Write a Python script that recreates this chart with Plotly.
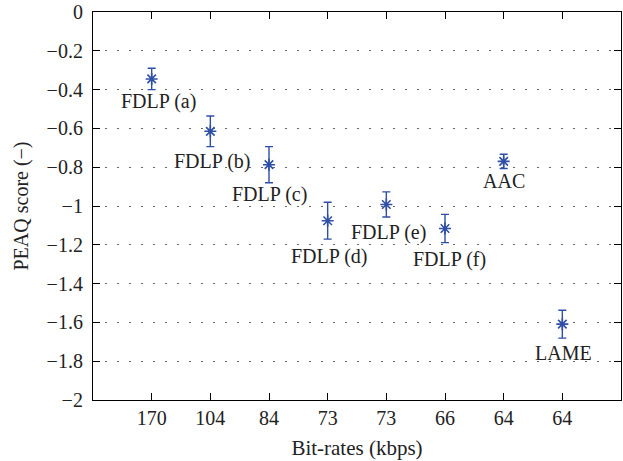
import plotly.graph_objects as go

# Codec configurations and their bit-rates
labels = ["FDLP (a)", "FDLP (b)", "FDLP (c)", "FDLP (d)", "FDLP (e)", "FDLP (f)", "AAC", "LAME"]
bitrates = ["170", "104", "84", "73", "73", "66", "64", "64"]

# Mean PEAQ scores and 95% confidence half-widths
peaq_mean = [-0.345, -0.615, -0.787, -1.076, -0.992, -1.116, -0.770, -1.609]
peaq_ci = [0.055, 0.079, 0.093, 0.095, 0.065, 0.073, 0.037, 0.072]

# Label offsets (pixels) relative to each point
label_dx = [7, 2, 0, 1, 2, 4, 0, 1]
label_dy = [-23, -30, -30, -36, -28, -31, -20, -29]

positions = list(range(1, len(labels) + 1))
blue = "#2f4ea6"
font = "Liberation Serif"

fig = go.Figure()
fig.add_trace(go.Scatter(
    x=positions,
    y=peaq_mean,
    mode="markers",
    marker=dict(symbol="asterisk-open", size=10, color=blue, line=dict(color=blue, width=1.6)),
    error_y=dict(type="data", array=peaq_ci, visible=True, color=blue, thickness=1.4, width=4),
    showlegend=False,
))

for x, y, t, dx, dy in zip(positions, peaq_mean, labels, label_dx, label_dy):
    fig.add_annotation(x=x, y=y, text=t, showarrow=False, xshift=dx, yshift=dy,
                       font=dict(family=font, size=20, color="#222"))

fig.update_layout(
    width=623, height=461,
    margin=dict(l=93, r=2, t=12, b=61),
    paper_bgcolor="white", plot_bgcolor="white",
    font=dict(family=font, size=20, color="#222"),
)
fig.update_xaxes(
    range=[0, 9], tickmode="array", tickvals=positions, ticktext=bitrates,
    showgrid=False, zeroline=False,
    showline=True, linecolor="black", linewidth=1.2, mirror="ticks",
    ticks="inside", ticklen=7, tickcolor="black",
    title=dict(text="Bit-rates (kbps)", standoff=12, font=dict(size=21)),
)
fig.update_yaxes(
    range=[-2, 0], dtick=0.2, tick0=0, tickformat="~g",
    showgrid=True, gridcolor="#666", gridwidth=1, griddash="2px,10px",
    zeroline=False, layer="below traces",
    showline=True, linecolor="black", linewidth=1.2, mirror="ticks",
    ticks="inside", ticklen=7, tickcolor="black", ticklabelstandoff=5,
    title=dict(text="PEAQ score (−)", standoff=12, font=dict(size=20)),
)

fig.write_html("out.html")
